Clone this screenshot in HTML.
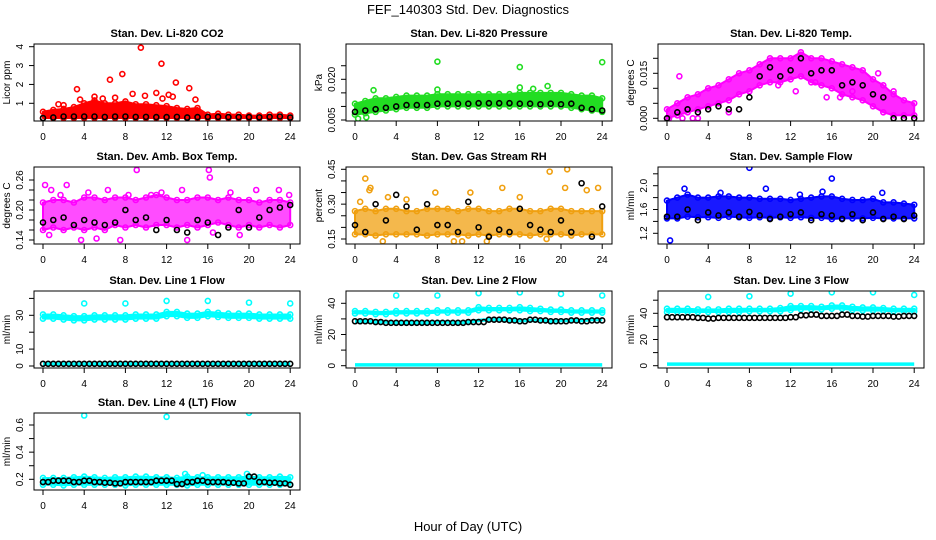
<!DOCTYPE html>
<html><head><meta charset="utf-8">
<style>
html,body{margin:0;padding:0;background:#fff;}
svg{display:block;font-family:"Liberation Sans",Arial,sans-serif;}
</style></head>
<body>
<svg id="chart" width="936" height="540" viewBox="0 0 936 540" xmlns="http://www.w3.org/2000/svg">
<text x="468" y="14" text-anchor="middle" font-size="13">FEF_140303  Std. Dev. Diagnostics</text>
<text x="468" y="531" text-anchor="middle" font-size="13">Hour of Day (UTC)</text>
</svg>
<script>
// ---- data arrays (hourly, 0..24) ----
const hours = [0,1,2,3,4,5,6,7,8,9,10,11,12,13,14,15,16,17,18,19,20,21,22,23,24];
const xTicks = [0,4,8,12,16,20,24];

const co2Lo = [0.22,0.22,0.22,0.22,0.22,0.22,0.22,0.22,0.22,0.22,0.22,0.22,0.22,0.22,0.22,0.22,0.22,0.22,0.22,0.22,0.22,0.22,0.22,0.22,0.22];
const co2Hi = [0.55,0.65,0.7,0.8,1.0,1.15,1.0,1.0,1.1,0.95,0.95,0.9,0.85,0.75,0.7,0.75,0.4,0.45,0.4,0.4,0.35,0.35,0.4,0.4,0.35];
const co2Black = [0.22,0.25,0.3,0.3,0.3,0.3,0.28,0.3,0.3,0.28,0.28,0.27,0.27,0.28,0.25,0.27,0.28,0.28,0.27,0.27,0.27,0.26,0.28,0.3,0.25];
const co2OutX = [3.3,3.6,6.5,7.7,9.5,11.5,12.9,14.2,14.8,8.7,9.9,11.0,12.2,1.5,2.0,5.0,5.8,7.0,11.6,12.6];
const co2OutY = [1.75,1.2,2.25,2.55,3.95,3.1,2.1,1.8,1.2,1.5,1.4,1.55,1.45,0.95,0.9,1.35,1.25,1.3,1.25,1.35];

const presLo = [0.007,0.0075,0.008,0.0085,0.009,0.0095,0.0095,0.0095,0.010,0.010,0.010,0.010,0.010,0.010,0.010,0.010,0.010,0.010,0.010,0.010,0.010,0.0095,0.009,0.0085,0.008];
const presHi = [0.011,0.012,0.013,0.013,0.0135,0.014,0.014,0.014,0.0145,0.0145,0.0145,0.0145,0.0145,0.0145,0.0145,0.0145,0.015,0.015,0.015,0.015,0.015,0.0145,0.014,0.014,0.013];
const presBlack = [0.008,0.0085,0.009,0.0095,0.010,0.0105,0.0105,0.0105,0.011,0.011,0.011,0.011,0.0112,0.0112,0.0112,0.0112,0.011,0.011,0.0108,0.011,0.0108,0.011,0.0095,0.009,0.0085];
const presOutX = [8,16,24,1.8,8,16,18.7,17.3,0.3,1.1];
const presOutY = [0.0265,0.0245,0.0263,0.016,0.0162,0.017,0.0175,0.0165,0.0055,0.006];

const tempLo = [0.0,0.001,0.002,0.003,0.004,0.005,0.006,0.008,0.009,0.011,0.012,0.012,0.013,0.014,0.012,0.011,0.010,0.008,0.007,0.006,0.004,0.002,0.001,0.001,0.001];
const tempHi = [0.003,0.005,0.007,0.008,0.010,0.011,0.013,0.015,0.016,0.018,0.020,0.020,0.020,0.022,0.020,0.020,0.019,0.018,0.017,0.016,0.013,0.011,0.008,0.006,0.005];
const tempBlack = [0.0,0.002,0.003,0.002,0.003,0.004,0.003,0.003,0.007,0.014,0.017,0.014,0.016,0.020,0.015,0.016,0.016,0.011,0.012,0.011,0.008,0.007,0.0,0.0,0.0];
const tempOutX = [0.2,1.5,2.5,3.0,1.2,6.0,10.8,12.5,14.4,15.5,18.0,22.0,20.5,16.8];
const tempOutY = [0.0,0.0,0.0,0.0,0.014,0.002,0.011,0.009,0.012,0.007,0.009,0.009,0.015,0.007];

const ambLo = [0.16,0.165,0.16,0.165,0.16,0.165,0.16,0.17,0.165,0.17,0.165,0.17,0.17,0.165,0.17,0.165,0.17,0.175,0.17,0.165,0.17,0.165,0.17,0.165,0.17];
const ambHi = [0.215,0.22,0.22,0.215,0.225,0.225,0.22,0.225,0.225,0.22,0.225,0.23,0.225,0.22,0.22,0.225,0.225,0.22,0.225,0.22,0.22,0.215,0.22,0.22,0.215];
const ambBlack = [0.175,0.18,0.185,0.17,0.18,0.175,0.17,0.175,0.2,0.18,0.185,0.16,0.18,0.16,0.155,0.18,0.175,0.15,0.165,0.2,0.165,0.185,0.2,0.205,0.21];
const ambOutX = [0.2,2.3,9.1,16.1,16.2,14,5.2,7.5,0.6,19.1,22.9,13.5,8.3,11.5,4.4,20.7,16.5,3.7,0.8,1.7,6.3,10.5,18.2,23.9];
const ambOutY = [0.25,0.25,0.28,0.28,0.265,0.14,0.143,0.14,0.15,0.15,0.24,0.24,0.23,0.235,0.235,0.24,0.155,0.14,0.24,0.23,0.24,0.23,0.235,0.23];

const rhLo = [0.17,0.17,0.165,0.17,0.17,0.17,0.17,0.165,0.17,0.17,0.17,0.165,0.17,0.165,0.17,0.17,0.17,0.165,0.17,0.17,0.17,0.165,0.17,0.17,0.17];
const rhHi = [0.27,0.28,0.27,0.28,0.28,0.27,0.27,0.28,0.28,0.28,0.27,0.28,0.28,0.27,0.27,0.28,0.28,0.27,0.27,0.28,0.28,0.27,0.27,0.27,0.27];
const rhBlack = [0.21,0.18,0.3,0.23,0.34,0.29,0.19,0.3,0.21,0.21,0.18,0.31,0.2,0.16,0.19,0.18,0.28,0.21,0.19,0.18,0.23,0.18,0.39,0.16,0.29];
const rhOutX = [1,1.5,1.4,18.9,20.6,14.3,23.6,22.5,11.2,7.8,0.5,20.4,2.7,9.6,10.4,18.6,12.8,5.0,16.0,3.2];
const rhOutY = [0.41,0.37,0.36,0.44,0.45,0.37,0.37,0.36,0.35,0.35,0.31,0.37,0.14,0.14,0.14,0.15,0.14,0.32,0.33,0.33];

const flowLo = [1.45,1.45,1.48,1.47,1.47,1.46,1.48,1.47,1.46,1.47,1.46,1.47,1.46,1.47,1.46,1.46,1.44,1.45,1.45,1.45,1.46,1.45,1.45,1.45,1.45];
const flowHi = [1.75,1.8,1.85,1.8,1.8,1.82,1.82,1.8,1.8,1.78,1.78,1.78,1.76,1.78,1.8,1.82,1.82,1.78,1.76,1.76,1.78,1.72,1.72,1.7,1.68];
const flowBlack = [1.48,1.48,1.6,1.42,1.55,1.5,1.55,1.48,1.56,1.5,1.44,1.48,1.52,1.55,1.42,1.52,1.5,1.44,1.52,1.42,1.55,1.44,1.48,1.44,1.5];
const flowOutX = [8,16,0.3,9.6,1.7,15.1,20.9,5.2,12.9];
const flowOutY = [2.3,2.12,1.08,1.95,1.95,1.9,1.88,1.88,1.85];

const l1Lo = [28,28,27.5,27,27,27.5,27.5,27.5,27.5,28,28,28,29.5,29.5,28.5,28.5,29.5,29,28.5,28.5,28.5,28,28,28,28];
const l1Hi = [30.5,30.5,30,29.5,29.5,30,30,30,30,30.5,30.5,30.5,32,32,31,31,32,31.5,31,31,31,30.5,30.5,30.5,30.5];
const l1Base = [1.2,1.2,1.2,1.2,1.2,1.2,1.2,1.2,1.2,1.2,1.2,1.2,1.2,1.2,1.2,1.2,1.2,1.2,1.2,1.2,1.2,1.2,1.2,1.2,1.2];
const l1Black = [1.3,1.3,1.3,1.3,1.3,1.3,1.3,1.3,1.3,1.3,1.3,1.3,1.3,1.3,1.3,1.3,1.3,1.3,1.3,1.3,1.3,1.3,1.3,1.3,1.3];
const l1OutX = [4,8,12,16,20,24];
const l1OutY = [37,37,38.5,38.5,37.5,37];

const l2Lo = [33.5,33.5,33,33,33.5,33.5,33.5,33.5,34,34,34,34,35.5,35.5,35.5,35.5,35.5,35,35,34.5,34.5,34,34,34,34];
const l2Hi = [35,35,34.5,34.5,35,35,35,35,35.5,35.5,35.5,35.5,37.5,37,37,37,37.5,37,36.5,36,36,35.5,35.5,35.5,35.5];
const l2Mid = [28.5,28.5,28,28,27.5,27.5,27.5,27.5,28,28,27.5,28,29,29.5,29.5,29,29,29,29,28.5,29,29,29,29.5,29.5];
const l2Base = [0.5,0.5,0.5,0.5,0.5,0.5,0.5,0.5,0.5,0.5,0.5,0.5,0.5,0.5,0.5,0.5,0.5,0.5,0.5,0.5,0.5,0.5,0.5,0.5,0.5];
const l2Black = [28.5,28.5,28,27.5,27.5,27.5,27.5,27.5,27.5,27.5,27.5,28,28,29.5,29.5,29,28.5,29.5,29,28.5,28.5,29,28.5,29,29];
const l2OutX = [4,8,12,16,20,24];
const l2OutY = [45,45,46.5,47,46,45];

const l3Lo = [41,41,41,41,41,41,41,41,41.5,41.5,41.5,41.5,42.5,43,43,43,43.5,43.5,42.5,42,42,42,41.5,41.5,41.5];
const l3Hi = [43.5,43.5,43.5,43,43,43,43.5,43.5,43.5,43.5,43.5,44,45.5,45.5,45.5,45,46,46,45,44.5,44.5,44,43.5,43.5,43.5];
const l3Base = [1.2,1.2,1.2,1.2,1.2,1.2,1.2,1.2,1.2,1.2,1.2,1.2,1.2,1.2,1.2,1.2,1.2,1.2,1.2,1.2,1.2,1.2,1.2,1.2,1.2];
const l3Black = [37,37,37,36.5,36,36.5,36.5,36.5,36.5,36.5,36.5,36.5,37,38.5,39,38,38,39,38,37.5,38,38,37.5,38,38];
const l3OutX = [4,8,12,16,20,24];
const l3OutY = [52.5,53,55,56,56,54];

const l4Lo = [0.16,0.16,0.155,0.16,0.16,0.16,0.16,0.16,0.155,0.16,0.16,0.16,0.16,0.16,0.155,0.16,0.16,0.16,0.16,0.16,0.16,0.16,0.16,0.16,0.16];
const l4Hi = [0.21,0.21,0.21,0.215,0.22,0.215,0.21,0.215,0.215,0.22,0.22,0.215,0.215,0.21,0.22,0.215,0.215,0.215,0.215,0.215,0.22,0.215,0.215,0.22,0.215];
const l4Black = [0.18,0.19,0.19,0.18,0.19,0.18,0.175,0.17,0.18,0.18,0.18,0.19,0.19,0.165,0.18,0.19,0.18,0.18,0.175,0.17,0.22,0.18,0.175,0.17,0.16];
const l4OutX = [4,12,20,13.8,15.5,19.8];
const l4OutY = [0.67,0.66,0.69,0.24,0.23,0.24];

// ---- panels ----
const panels = [
 {name:'co2',title:'Stan. Dev. Li-820 CO2',ylab:'Licor ppm',col:0,row:0,c:'#ff0000',op:1,cal:[1,103.3,4,46.7],ticks:[1,2,3,4],tl:['1','2','3','4'],lo:co2Lo,hi:co2Hi,blk:co2Black,ox:co2OutX,oy:co2OutY},
 {name:'pressure',title:'Stan. Dev. Li-820 Pressure',ylab:'kPa',col:1,row:0,c:'#22dd22',op:1,cal:[0.005,120,0.02,79.3],ticks:[0.005,0.01,0.015,0.02,0.025],tl:['0.005','','','0.020',''],lo:presLo,hi:presHi,blk:presBlack,ox:presOutX,oy:presOutY},
 {name:'li820-temp',title:'Stan. Dev. Li-820 Temp.',ylab:'degrees C',col:2,row:0,c:'#ff00ff',op:0.85,cal:[0,118.3,0.015,73.3],ticks:[0,0.005,0.01,0.015,0.02],tl:['0.000','','','0.015',''],lo:tempLo,hi:tempHi,blk:tempBlack,ox:tempOutX,oy:tempOutY},
 {name:'amb-box-temp',title:'Stan. Dev. Amb. Box Temp.',ylab:'degrees C',col:0,row:1,c:'#ff00ff',op:0.7,cal:[0.14,240,0.26,180],ticks:[0.14,0.16,0.18,0.2,0.22,0.24,0.26],tl:['0.14','','','0.20','','','0.26'],lo:ambLo,hi:ambHi,blk:ambBlack,ox:ambOutX,oy:ambOutY},
 {name:'gas-rh',title:'Stan. Dev. Gas Stream RH',ylab:'percent',col:1,row:1,c:'#f0a010',op:0.75,cal:[0.15,239,0.45,169.3],ticks:[0.15,0.2,0.25,0.3,0.35,0.4,0.45],tl:['0.15','','','0.30','','','0.45'],lo:rhLo,hi:rhHi,blk:rhBlack,ox:rhOutX,oy:rhOutY},
 {name:'sample-flow',title:'Stan. Dev. Sample Flow',ylab:'ml/min',col:2,row:1,c:'#0000ff',op:0.9,cal:[1.2,233.3,2.0,185.7],ticks:[1.2,1.4,1.6,1.8,2.0,2.2],tl:['1.2','','1.6','','2.0',''],lo:flowLo,hi:flowHi,blk:flowBlack,ox:flowOutX,oy:flowOutY},
 {name:'line1-flow',title:'Stan. Dev. Line 1 Flow',ylab:'ml/min',col:0,row:2,c:'#00ffff',op:1,cal:[0,366,30,315.3],ticks:[0,10,20,30,40],tl:['0','10','','30',''],lo:l1Lo,hi:l1Hi,extra:[l1Base],blk:l1Black,ox:l1OutX,oy:l1OutY},
 {name:'line2-flow',title:'Stan. Dev. Line 2 Flow',ylab:'ml/min',col:1,row:2,c:'#00ffff',op:1,cal:[0,365.7,40,303.3],ticks:[0,10,20,30,40],tl:['0','','20','','40'],lo:l2Lo,hi:l2Hi,extra:[l2Mid,l2Base],blk:l2Black,ox:l2OutX,oy:l2OutY},
 {name:'line3-flow',title:'Stan. Dev. Line 3 Flow',ylab:'ml/min',col:2,row:2,c:'#00ffff',op:1,cal:[0,365.7,40,313.3],ticks:[0,10,20,30,40,50],tl:['0','','20','','40',''],lo:l3Lo,hi:l3Hi,extra:[l3Base],blk:l3Black,ox:l3OutX,oy:l3OutY},
 {name:'line4-flow',title:'Stan. Dev. Line 4 (LT) Flow',ylab:'ml/min',col:0,row:3,c:'#00ffff',op:1,cal:[0.2,479.3,0.6,425],ticks:[0.2,0.3,0.4,0.5,0.6],tl:['0.2','','0.4','','0.6'],lo:l4Lo,hi:l4Hi,blk:l4Black,ox:l4OutX,oy:l4OutY}
];

const NS='http://www.w3.org/2000/svg';
const svg=document.getElementById('chart');
const colLeft=[34,346,658], rowTop=[44,167,291,413], W=266, H=77;
function mk(tag,attrs,parent){const e=document.createElementNS(NS,tag);for(const k in attrs)e.setAttribute(k,attrs[k]);parent.appendChild(e);return e;}

panels.forEach(p=>{
  const L=colLeft[p.col], T=rowTop[p.row];
  const g=mk('g',{},svg);
  
  
  const xs=h=>L+9+h*10.3;
  const [va,pa,vb,pb]=p.cal;
  const ys=v=>pa+(v-va)*(pb-pa)/(vb-va);
  const clip='clip-'+p.name;
  const cp=mk('clipPath',{id:clip},g); mk('rect',{x:L,y:T,width:W,height:H},cp);
  const pg=mk('g',{'clip-path':'url(#'+clip+')'},g);
  let pts=hours.map((h,i)=>xs(h)+','+ys(p.hi[i]));
  pts=pts.concat(hours.slice().reverse().map((h,j)=>{const i=hours.length-1-j;return xs(h)+','+ys(p.lo[i]);}));
  const band=mk('polygon',{points:pts.join(' '),fill:p.c,'fill-opacity':p.op,stroke:p.c,'stroke-width':2,'stroke-linejoin':'round'},pg);
  
  
  const circ=(x,y,col,nm)=>{const c=mk('circle',{cx:x,cy:y,r:2.5,fill:'none',stroke:col,'stroke-width':1.6},pg);
    
    };
  hours.forEach((h,i)=>{circ(xs(h),ys(p.hi[i]),p.c,p.name+'-point');circ(xs(h),ys(p.lo[i]),p.c,p.name+'-point');});
  (p.extra||[]).forEach(arr=>{
    const ln=mk('polyline',{points:hours.map((h,i)=>xs(h)+','+ys(arr[i])).join(' '),fill:'none',stroke:p.c,'stroke-width':3.5},pg);
    
    
  });
  p.ox.forEach((x,i)=>circ(xs(x),ys(p.oy[i]),p.c,p.name+'-outlier'));
  hours.forEach((h,i)=>{circ(xs(h),ys(p.blk[i]),'#000',p.name+'-black-point');
    if(i<hours.length-1 && p.name.indexOf('line')===0) circ(xs(h+0.5),ys((p.blk[i])),'#000',p.name+'-black-point');});
  const box=mk('rect',{x:L,y:T,width:W,height:H,fill:'none',stroke:'#000','stroke-width':1},g);
  
  
  const t=mk('text',{x:L+W/2,y:T-7,'text-anchor':'middle','font-size':11,'font-weight':'bold'},g); t.textContent=p.title;
  
  
  xTicks.forEach(v=>{
    mk('line',{x1:xs(v),x2:xs(v),y1:T+H,y2:T+H+5,stroke:'#000'},g);
    const tx=mk('text',{x:xs(v),y:T+H+19,'text-anchor':'middle','font-size':10},g); tx.textContent=v;
    
    
  });
  p.ticks.forEach((v,i)=>{
    const y=ys(v); if(y<T-1||y>T+H+1) return;
    mk('line',{x1:L-5,x2:L,y1:y,y2:y,stroke:'#000'},g);
    if(p.tl[i]){const ty=mk('text',{x:L-11,y:y,'text-anchor':'middle','font-size':10,transform:'rotate(-90 '+(L-11)+' '+y+')'},g); ty.textContent=p.tl[i];
      
      }
  });
  const yl=mk('text',{x:L-24,y:T+H/2,'text-anchor':'middle','font-size':10,transform:'rotate(-90 '+(L-24)+' '+(T+H/2)+')'},g); yl.textContent=p.ylab;
  
  
});
</script>
</body></html>
